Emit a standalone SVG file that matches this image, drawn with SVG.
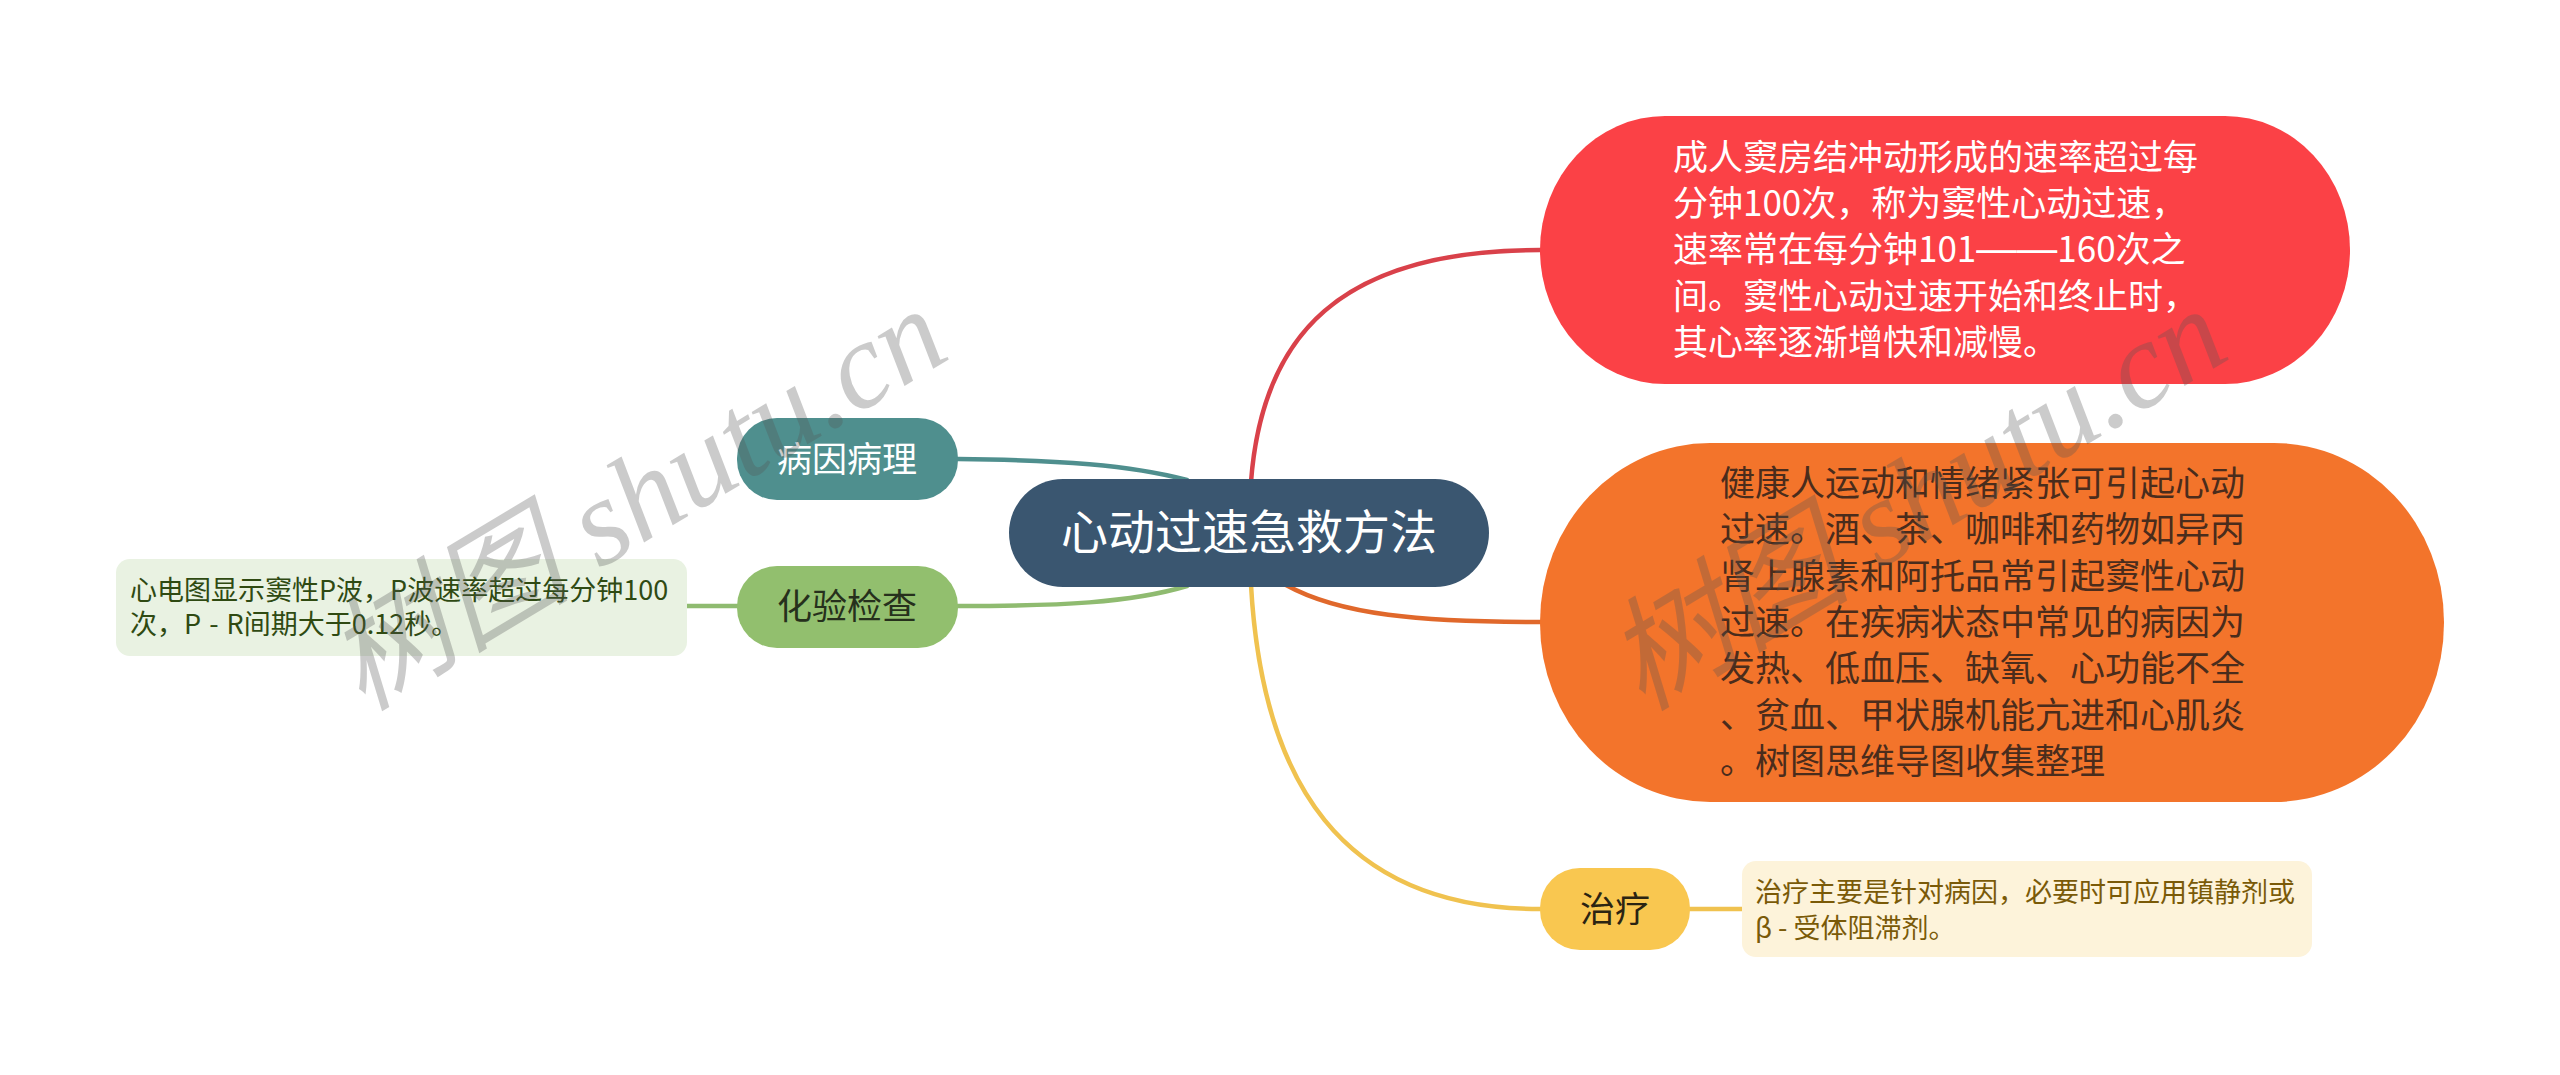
<svg xmlns="http://www.w3.org/2000/svg" width="2560" height="1075" viewBox="0 0 2560 1075">
<style>
text{font-family:"Noto Sans CJK SC","Liberation Sans",sans-serif}
.c{fill:none;stroke-width:4.5;stroke-linecap:round}
.m{text-anchor:middle;dominant-baseline:central;font-size:35px}
.b{font-size:35px}
.n{font-size:27px}
.d{font-family:"Liberation Sans",sans-serif;font-size:40.5px}
.wm{font-family:"Liberation Serif","Noto Sans CJK SC",serif;font-style:italic;font-size:123px;fill:#555;opacity:.3}
</style>
<rect width="2560" height="1075" fill="#fff"/>
<g id="connectors">
<path class="c" stroke="#d9414a" d="M1251 482C1262 335 1340 250 1540 250"/>
<path class="c" stroke="#e0682b" d="M1286 585C1340 615 1420 622 1540 622"/>
<path class="c" stroke="#f0c24f" d="M1251 585C1262 780 1340 909 1540 909"/>
<path class="c" stroke="#f0c24f" d="M1690 909H1742"/>
<path class="c" stroke="#4f8f8e" d="M958 459C1060 460 1130 465 1187 480"/>
<path class="c" stroke="#8fbb70" d="M958 606C1060 606 1130 603 1187 586"/>
<path class="c" stroke="#8fbb70" d="M686 606H737"/>
</g>
<g id="root">
<rect x="1009" y="479" width="480" height="108" rx="54" fill="#3a5670"/>
<text x="1249" y="528" text-anchor="middle" dominant-baseline="central" font-size="47" fill="#fff">心动过速急救方法</text>
</g>
<g id="node-red">
<rect x="1540" y="116" width="810" height="268" rx="125" ry="134" fill="#fb4146"/>
<g class="b" fill="#fff">
<text x="1673" y="170">成人窦房结冲动形成的速率超过每</text>
<text x="1673" y="216">分钟100次，称为窦性心动过速，</text>
<text x="1673" y="262">速率常在每分钟101<tspan class="d">——</tspan>160次之</text>
<text x="1673" y="309">间。窦性心动过速开始和终止时，</text>
<text x="1673" y="355">其心率逐渐增快和减慢。</text>
</g>
</g>
<g id="node-orange">
<rect x="1540" y="443" width="904" height="359" rx="170" ry="179" fill="#f3742b"/>
<g class="b" fill="#4a2c1c">
<text x="1720" y="496">健康人运动和情绪紧张可引起心动</text>
<text x="1720" y="542">过速。酒、茶、咖啡和药物如异丙</text>
<text x="1720" y="589">肾上腺素和阿托品常引起窦性心动</text>
<text x="1720" y="635">过速。在疾病状态中常见的病因为</text>
<text x="1720" y="681">发热、低血压、缺氧、心功能不全</text>
<text x="1720" y="728">、贫血、甲状腺机能亢进和心肌炎</text>
<text x="1720" y="774">。树图思维导图收集整理</text>
</g>
</g>
<g id="node-teal">
<rect x="737" y="418" width="221" height="82" rx="40" fill="#4f8f8e"/>
<text class="m" x="847" y="456" fill="#fff">病因病理</text>
</g>
<g id="node-green">
<rect x="737" y="566" width="221" height="82" rx="40" fill="#92bf6e"/>
<text class="m" x="847" y="603" fill="#26301c">化验检查</text>
</g>
<g id="note-green">
<rect x="116" y="559" width="571" height="97" rx="14" fill="#e9f2e2"/>
<g class="n" fill="#2f4a12">
<text x="130" y="600">心电图显示窦性P波，P波速率超过每分钟100</text>
<text x="130" y="634" word-spacing="2">次，P - R间期大于0.12秒。</text>
</g>
</g>
<g id="node-yellow">
<rect x="1540" y="868" width="150" height="82" rx="40" fill="#f9c750"/>
<text class="m" x="1615" y="906" fill="#2b2412">治疗</text>
</g>
<g id="note-yellow">
<rect x="1742" y="861" width="570" height="96" rx="14" fill="#fdf3da"/>
<g class="n" fill="#7a5a08">
<text x="1755" y="902">治疗主要是针对病因，必要时可应用镇静剂或</text>
<text x="1755" y="938">β - 受体阻滞剂。</text>
</g>
</g>
<g id="watermarks">
<text class="wm" transform="translate(362 712) rotate(-31)">树图 shutu.cn</text>
<text class="wm" transform="translate(1642 712) rotate(-31)">树图 shutu.cn</text>
</g>
</svg>
